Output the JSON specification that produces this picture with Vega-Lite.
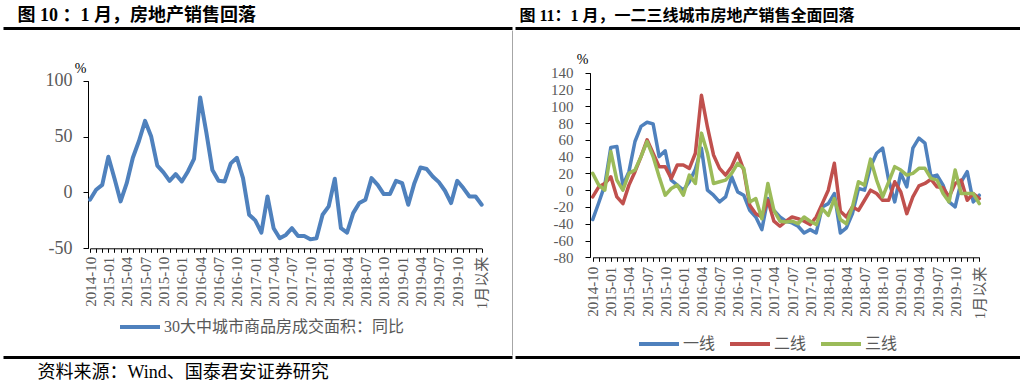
{
  "$schema": "https://vega.github.io/schema/vega-lite/v6.json",
  "background": "white",
  "padding": {"left": 3, "top": 0, "right": 0, "bottom": 0},
  "spacing": 3,
  "bounds": "flush",
  "resolve": {"scale": {"color": "independent"}, "legend": {"color": "independent"}},
  "config": {
    "view": {"stroke": null},
    "axis": {"grid": false, "domainColor": "#000000", "tickColor": "#000000", "labelColor": "#595959"}
  },
  "datasets": {
    "left": [
      {"m": "2014-10", "v": -6.5}, {"m": "2014-11", "v": 2.4}, {"m": "2014-12", "v": 6.8},
      {"m": "2015-01", "v": 32}, {"m": "2015-02", "v": 12.5}, {"m": "2015-03", "v": -8},
      {"m": "2015-04", "v": 8.3}, {"m": "2015-05", "v": 31}, {"m": "2015-06", "v": 46},
      {"m": "2015-07", "v": 64}, {"m": "2015-08", "v": 50}, {"m": "2015-09", "v": 24},
      {"m": "2015-10", "v": 18}, {"m": "2015-11", "v": 10.4}, {"m": "2015-12", "v": 16.4},
      {"m": "2016-01", "v": 9.8}, {"m": "2016-02", "v": 18.8}, {"m": "2016-03", "v": 30},
      {"m": "2016-04", "v": 85}, {"m": "2016-05", "v": 54}, {"m": "2016-06", "v": 20},
      {"m": "2016-07", "v": 10.4}, {"m": "2016-08", "v": 9.8}, {"m": "2016-09", "v": 26},
      {"m": "2016-10", "v": 31}, {"m": "2016-11", "v": 12.8}, {"m": "2016-12", "v": -20},
      {"m": "2017-01", "v": -25}, {"m": "2017-02", "v": -36}, {"m": "2017-03", "v": -3.6},
      {"m": "2017-04", "v": -32}, {"m": "2017-05", "v": -41}, {"m": "2017-06", "v": -38},
      {"m": "2017-07", "v": -32}, {"m": "2017-08", "v": -39}, {"m": "2017-09", "v": -39},
      {"m": "2017-10", "v": -42}, {"m": "2017-11", "v": -41}, {"m": "2017-12", "v": -20},
      {"m": "2018-01", "v": -12.5}, {"m": "2018-02", "v": 12.2}, {"m": "2018-03", "v": -32},
      {"m": "2018-04", "v": -36}, {"m": "2018-05", "v": -18.5}, {"m": "2018-06", "v": -9.5},
      {"m": "2018-07", "v": -6.5}, {"m": "2018-08", "v": 12.8}, {"m": "2018-09", "v": 6.8},
      {"m": "2018-10", "v": -1.5}, {"m": "2018-11", "v": -1.5}, {"m": "2018-12", "v": 10.4},
      {"m": "2019-01", "v": 8.3}, {"m": "2019-02", "v": -11}, {"m": "2019-03", "v": 8.3},
      {"m": "2019-04", "v": 22.3}, {"m": "2019-05", "v": 21}, {"m": "2019-06", "v": 14.3},
      {"m": "2019-07", "v": 9.2}, {"m": "2019-08", "v": 1.5}, {"m": "2019-09", "v": -9.5},
      {"m": "2019-10", "v": 10.4}, {"m": "2019-11", "v": 3.9}, {"m": "2019-12", "v": -3.6},
      {"m": "2020-01", "v": -3.6}, {"m": "1月以来", "v": -11}
    ],
    "right": [
      {"m": "2014-10", "一线": -35, "二线": -8, "三线": 20},
      {"m": "2014-11", "一线": -15, "二线": 4, "三线": 6},
      {"m": "2014-12", "一线": 6, "二线": 8, "三线": 0},
      {"m": "2015-01", "一线": 51, "二线": 16, "三线": 46},
      {"m": "2015-02", "一线": 52, "二线": -8, "三线": 12},
      {"m": "2015-03", "一线": 6, "二线": -16, "三线": 0},
      {"m": "2015-04", "一线": 22, "二线": 6, "三线": 20},
      {"m": "2015-05", "一线": 58, "二线": 22, "三线": 24},
      {"m": "2015-06", "一线": 76, "二线": 40, "三线": 40},
      {"m": "2015-07", "一线": 81, "二线": 60, "三线": 58},
      {"m": "2015-08", "一线": 79, "二线": 44, "三线": 40},
      {"m": "2015-09", "一线": 40, "二线": 28, "三线": 16},
      {"m": "2015-10", "一线": 47, "二线": 28, "三线": -6},
      {"m": "2015-11", "一线": 12, "二线": 14, "三线": 2},
      {"m": "2015-12", "一线": 6, "二线": 30, "三线": 6},
      {"m": "2016-01", "一线": 0, "二线": 30, "三线": -6},
      {"m": "2016-02", "一线": 10, "二线": 26, "三线": 18},
      {"m": "2016-03", "一线": 25, "二线": 44, "三线": 8},
      {"m": "2016-04", "一线": 50, "二线": 113, "三线": 68},
      {"m": "2016-05", "一线": 0, "二线": 75, "三线": 44},
      {"m": "2016-06", "一线": -6, "二线": 42, "三线": 8},
      {"m": "2016-07", "一线": -14, "二线": 26, "三线": 10},
      {"m": "2016-08", "一线": -8, "二线": 18, "三线": 12},
      {"m": "2016-09", "一线": 16, "二线": 28, "三线": 20},
      {"m": "2016-10", "一线": -2, "二线": 44, "三线": 32},
      {"m": "2016-11", "一线": -6, "二线": 24, "三线": 26},
      {"m": "2016-12", "一线": -24, "二线": -18, "三线": -14},
      {"m": "2017-01", "一线": -32, "二线": -28, "三线": -10},
      {"m": "2017-02", "一线": -47, "二线": -32, "三线": -34},
      {"m": "2017-03", "一线": -10, "二线": -12, "三线": 8},
      {"m": "2017-04", "一线": -24, "二线": -37, "三线": -24},
      {"m": "2017-05", "一线": -32, "二线": -43, "三线": -37},
      {"m": "2017-06", "一线": -37, "二线": -37, "三线": -38},
      {"m": "2017-07", "一线": -39, "二线": -32, "三线": -37},
      {"m": "2017-08", "一线": -43, "二线": -34, "三线": -40},
      {"m": "2017-09", "一线": -51, "二线": -37, "三线": -32},
      {"m": "2017-10", "一线": -47, "二线": -41, "三线": -37},
      {"m": "2017-11", "一线": -51, "二线": -32, "三线": -41},
      {"m": "2017-12", "一线": -20, "二线": -16, "三线": -22},
      {"m": "2018-01", "一线": -16, "二线": 0, "三线": -30},
      {"m": "2018-02", "一线": -4, "二线": 32, "三线": -10},
      {"m": "2018-03", "一线": -51, "二线": -25, "三线": -35},
      {"m": "2018-04", "一线": -45, "二线": -32, "三线": -40},
      {"m": "2018-05", "一线": -28, "二线": -20, "三线": -20},
      {"m": "2018-06", "一线": 2, "二线": -24, "三线": 10},
      {"m": "2018-07", "一线": 0, "二线": -12, "三线": 6},
      {"m": "2018-08", "一线": 28, "二线": 0, "三线": 37},
      {"m": "2018-09", "一线": 44, "二线": -4, "三线": 12},
      {"m": "2018-10", "一线": 50, "二线": -12, "三线": -8},
      {"m": "2018-11", "一线": 12, "二线": -12, "三线": 10},
      {"m": "2018-12", "一线": -14, "二线": 10, "三线": 28},
      {"m": "2019-01", "一线": 20, "二线": -2, "三线": 24},
      {"m": "2019-02", "一线": 4, "二线": -28, "三线": 18},
      {"m": "2019-03", "一线": 50, "二线": -8, "三线": 20},
      {"m": "2019-04", "一线": 62, "二线": 5, "三线": 26},
      {"m": "2019-05", "一线": 56, "二线": 8, "三线": 26},
      {"m": "2019-06", "一线": 16, "二线": 13, "三线": 14},
      {"m": "2019-07", "一线": 18, "二线": 4, "三线": 12},
      {"m": "2019-08", "一线": 6, "二线": 3, "三线": -4},
      {"m": "2019-09", "一线": -14, "二线": -8, "三线": -14},
      {"m": "2019-10", "一线": -20, "二线": 8, "三线": 24},
      {"m": "2019-11", "一线": 10, "二线": 12, "三线": -4},
      {"m": "2019-12", "一线": 22, "二线": -12, "三线": -4},
      {"m": "2020-01", "一线": -14, "二线": -4, "三线": -4},
      {"m": "1月以来", "一线": -6, "二线": -10, "三线": -16}
    ],
    "frame": [{"f": 0.5}]
  },
  "hconcat": [
    {
      "width": 509,
      "height": 357,
      "layer": [
        {
          "data": {"name": "left"},
          "mark": {"type": "line", "strokeWidth": 4, "strokeJoin": "round", "strokeCap": "round"},
          "encoding": {
            "x": {
              "field": "m", "type": "ordinal", "sort": null,
              "scale": {"type": "point", "range": [87, 478.7], "padding": 0},
              "axis": {
                "orient": "bottom", "offset": -108.7, "title": null,
                "labelAngle": -90, "labelFontSize": 15, "labelFont": "Liberation Serif, Noto Sans CJK SC",
                "labelPadding": 4, "tickSize": 4, "labelOverlap": false, "labelBound": false, "labelFlush": false,
                "labelExpr": "(indexof(['01','04','07','10'], substring(datum.value, 5)) >= 0 && datum.value != '2020-01') || datum.value == '1月以来' ? datum.value : ''"
              }
            },
            "y": {
              "field": "v", "type": "quantitative",
              "scale": {"domain": [-50, 100], "range": [248.3, 80.7], "nice": false, "zero": false},
              "axis": {
                "orient": "left", "offset": -85, "values": [-50, 0, 50, 100],
                "labelExpr": "'' + datum.value", "labelFontSize": 18, "labelFont": "Liberation Serif",
                "labelPadding": 11, "tickSize": 5,
                "title": "%", "titleAngle": 0, "titleX": -8, "titleY": 68, "titleAlign": "center",
                "titleBaseline": "middle", "titleFont": "Liberation Serif", "titleFontSize": 14,
                "titleFontWeight": "normal", "titleColor": "#000000"
              }
            },
            "color": {
              "datum": "30大中城市商品房成交面积：同比", "type": "nominal",
              "scale": {"domain": ["30大中城市商品房成交面积：同比"], "range": ["#4F81BD"]},
              "legend": {
                "orient": "none", "legendX": 115, "legendY": 305, "title": null, "padding": 0,
                "symbolType": "stroke", "symbolSize": 1600, "symbolStrokeWidth": 4,
                "labelFont": "Liberation Serif, Noto Sans CJK SC", "labelFontSize": 16,
                "labelColor": "#595959", "labelOffset": 2, "labelLimit": 600
              }
            }
          }
        },
        {
          "data": {"name": "frame"},
          "mark": {"type": "point", "opacity": 0},
          "encoding": {
            "x": {
              "field": "f", "type": "quantitative", "scale": {"domain": [0, 1]},
              "axis": {
                "orient": "top", "offset": -28, "ticks": false, "labels": false,
                "domainWidth": 3, "domainColor": "#000000",
                "title": "图 10 ：1 月，房地产销售回落", "titleX": 14, "titleY": -8,
                "titleAlign": "left", "titleBaseline": "alphabetic", "titleAngle": 0,
                "titleFont": "Liberation Serif, Noto Sans CJK SC", "titleFontSize": 18,
                "titleFontWeight": "bold", "titleColor": "#000000"
              }
            }
          }
        },
        {
          "data": {"name": "frame"},
          "mark": {"type": "point", "opacity": 0},
          "encoding": {
            "x": {
              "field": "f", "type": "quantitative", "scale": {"domain": [0, 1]},
              "axis": {
                "orient": "bottom", "offset": 0, "ticks": false, "labels": false,
                "domainWidth": 3, "domainColor": "#000000",
                "title": "资料来源：Wind、国泰君安证券研究", "titleX": 34, "titleY": 20,
                "titleAlign": "left", "titleBaseline": "alphabetic", "titleAngle": 0,
                "titleFont": "Liberation Serif, Noto Sans CJK SC", "titleFontSize": 18,
                "titleFontWeight": "normal", "titleColor": "#000000"
              }
            }
          }
        },
        {
          "data": {"name": "frame"},
          "mark": {"type": "point", "opacity": 0},
          "encoding": {
            "y": {
              "field": "f", "type": "quantitative", "scale": {"domain": [0, 1], "range": [355, 30]},
              "axis": {
                "orient": "right", "offset": 0, "ticks": false, "labels": false, "title": null,
                "domainWidth": 1, "domainColor": "#A6A6A6"
              }
            }
          }
        }
      ],
      "resolve": {
        "scale": {"x": "independent", "y": "independent"},
        "axis": {"x": "independent", "y": "independent"}
      }
    },
    {
      "width": 505,
      "height": 357,
      "layer": [
        {
          "data": {"name": "right"},
          "transform": [{"fold": ["一线", "二线", "三线"], "as": ["s", "v"]}],
          "mark": {"type": "line", "strokeWidth": 3.5, "strokeJoin": "round", "strokeCap": "round"},
          "encoding": {
            "x": {
              "field": "m", "type": "ordinal", "sort": null,
              "scale": {"type": "point", "range": [77.7, 464.3], "padding": 0},
              "axis": {
                "orient": "bottom", "offset": -99.7, "title": null,
                "labelAngle": -90, "labelFontSize": 15, "labelFont": "Liberation Serif, Noto Sans CJK SC",
                "labelPadding": 5, "tickSize": 4, "labelOverlap": false, "labelBound": false, "labelFlush": false,
                "labelExpr": "(indexof(['01','04','07','10'], substring(datum.value, 5)) >= 0 && datum.value != '2020-01') || datum.value == '1月以来' ? datum.value : ''"
              }
            },
            "y": {
              "field": "v", "type": "quantitative",
              "scale": {"domain": [-80, 140], "range": [257.3, 72.7], "nice": false, "zero": false},
              "axis": {
                "orient": "left", "offset": -75,
                "values": [-80, -60, -40, -20, 0, 20, 40, 60, 80, 100, 120, 140],
                "labelExpr": "'' + datum.value", "labelFontSize": 15, "labelFont": "Liberation Serif",
                "labelPadding": 12, "tickSize": 5,
                "title": "%", "titleAngle": 0, "titleX": -8, "titleY": 59, "titleAlign": "center",
                "titleBaseline": "middle", "titleFont": "Liberation Serif", "titleFontSize": 14,
                "titleFontWeight": "normal", "titleColor": "#000000"
              }
            },
            "color": {
              "field": "s", "type": "nominal",
              "scale": {"domain": ["一线", "二线", "三线"], "range": ["#4F81BD", "#C0504D", "#9BBB59"]},
              "legend": {
                "orient": "none", "legendX": 122, "legendY": 322, "title": null, "padding": 0,
                "direction": "horizontal", "columnPadding": 6,
                "symbolType": "stroke", "symbolSize": 1600, "symbolStrokeWidth": 4,
                "labelFont": "Liberation Serif, Noto Sans CJK SC", "labelFontSize": 16,
                "labelColor": "#595959", "labelOffset": 2, "labelLimit": 600
              }
            }
          }
        },
        {
          "data": {"name": "frame"},
          "mark": {"type": "point", "opacity": 0},
          "encoding": {
            "x": {
              "field": "f", "type": "quantitative", "scale": {"domain": [0, 1]},
              "axis": {
                "orient": "top", "offset": -28, "ticks": false, "labels": false,
                "domainWidth": 3, "domainColor": "#000000",
                "title": "图 11：1 月，一二三线城市房地产销售全面回落", "titleX": 4, "titleY": -8,
                "titleAlign": "left", "titleBaseline": "alphabetic", "titleAngle": 0,
                "titleFont": "Liberation Serif, Noto Sans CJK SC", "titleFontSize": 16,
                "titleFontWeight": "bold", "titleColor": "#000000"
              }
            }
          }
        },
        {
          "data": {"name": "frame"},
          "mark": {"type": "point", "opacity": 0},
          "encoding": {
            "x": {
              "field": "f", "type": "quantitative", "scale": {"domain": [0, 1]},
              "axis": {
                "orient": "bottom", "offset": 0, "ticks": false, "labels": false, "title": null,
                "domainWidth": 3, "domainColor": "#000000"
              }
            }
          }
        }
      ],
      "resolve": {
        "scale": {"x": "independent", "y": "independent"},
        "axis": {"x": "independent", "y": "independent"}
      }
    }
  ]
}
